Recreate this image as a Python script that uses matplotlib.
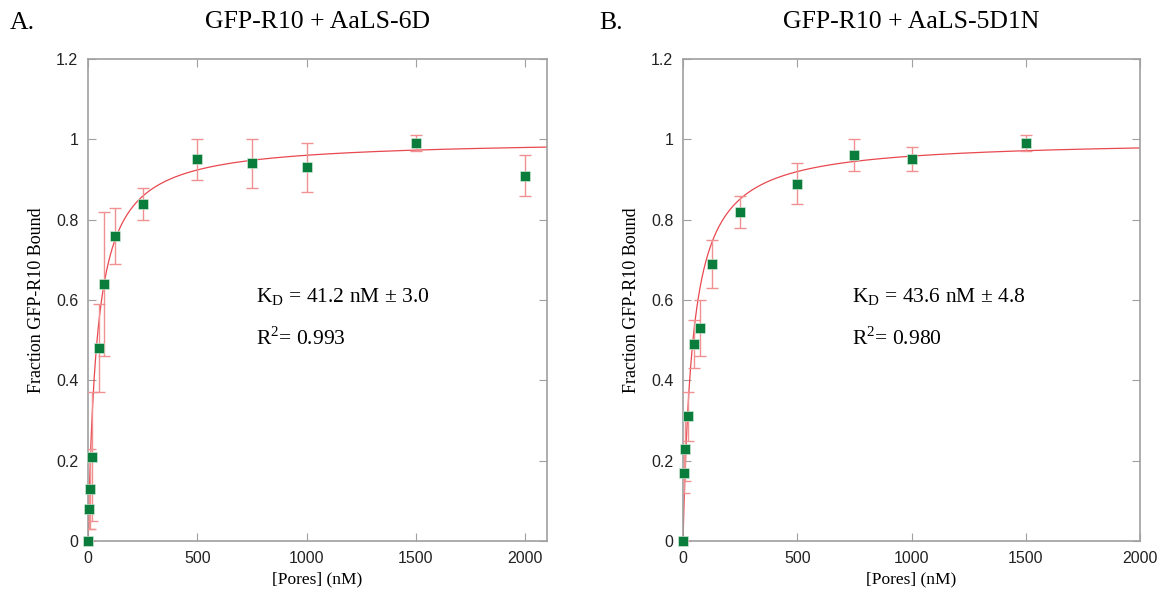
""" Binding curves: GFP-R10 vs AaLS pores """
import numpy as np
import matplotlib
matplotlib.use('Agg')
import matplotlib.pyplot as plt
from matplotlib.ticker import FormatStrFormatter

# panel A: AaLS-6D
conc_a = [0, 5, 10, 20, 50, 75, 125, 250, 500, 750, 1000, 1500, 2000]
frac_a = [0, 0.08, 0.13, 0.21, 0.48, 0.64, 0.76, 0.84, 0.95, 0.94, 0.93, 0.99, 0.91]
err_a = [0, 0.05, 0.10, 0.16, 0.11, 0.18, 0.07, 0.04, 0.05, 0.06, 0.06, 0.02, 0.05]
kd_a = 41.2

# panel B: AaLS-5D1N
conc_b = [0, 5, 10, 20, 50, 75, 125, 250, 500, 750, 1000, 1500]
frac_b = [0, 0.17, 0.23, 0.31, 0.49, 0.53, 0.69, 0.82, 0.89, 0.96, 0.95, 0.99]
err_b = [0, 0.05, 0.08, 0.06, 0.06, 0.07, 0.06, 0.04, 0.05, 0.04, 0.03, 0.02]
kd_b = 43.6

serif = 'Liberation Serif'
sans = 'Liberation Sans'
green = '#0a7d3c'
red = '#e8484f'
gray = '#a0a0a0'

fig = plt.figure(figsize=(11.6, 5.98), dpi=100)
ax1 = fig.add_axes([0.0759, 0.0953, 0.3957, 0.806])
ax2 = fig.add_axes([0.5888, 0.0953, 0.394, 0.806])


def panel(ax, x, y, err, kd, kd_err, r2, xmax, title, lx):
    xs = np.linspace(0, xmax, 2000)
    ax.plot(xs, xs / (kd + xs), color=red, linewidth=0.9, zorder=2)
    ax.errorbar(x, y, yerr=err, fmt='none', ecolor='#f09090', elinewidth=1,
                capsize=4, capthick=1, zorder=3)
    ax.plot(x, y, 's', color=green, markersize=7, markeredgecolor='#e0f0e0',
            markeredgewidth=0.4, zorder=4, clip_on=False)
    ax.set_xlim(0, xmax)
    ax.set_ylim(0, 1.2)
    ax.set_xticks([0, 500, 1000, 1500, 2000])
    ax.set_yticks([0, 0.2, 0.4, 0.6, 0.8, 1.0, 1.2])
    ax.yaxis.set_major_formatter(FormatStrFormatter('%g'))
    ax.tick_params(direction='in', length=6, color=gray, top=True, right=True,
                   labelsize=11.5, pad=7, labelcolor='#222222')
    for lab in ax.get_xticklabels() + ax.get_yticklabels():
        lab.set_fontfamily(sans)
    for sp in ax.spines.values():
        sp.set_color(gray)
        sp.set_linewidth(1.2)
    ax.set_xlabel('[Pores] (nM)', fontfamily=serif, fontsize=12.5, labelpad=4)
    ax.set_ylabel('Fraction GFP-R10 Bound', fontfamily=serif, fontsize=13, labelpad=8)
    ax.set_title(title, fontfamily=serif, fontsize=18.5, pad=22)
    ax.text(lx, 0.595, r'K$_{\mathregular{D}}$ = %s nM ± %s' % (kd, kd_err),
            fontfamily=serif, fontsize=15.5)
    ax.text(lx, 0.488, r'R$^{\mathregular{2}}$= %s' % r2, fontfamily=serif, fontsize=15.5)
    return ax


panel(ax1, conc_a, frac_a, err_a, kd_a, '3.0', '0.993', 2100, 'GFP-R10 + AaLS-6D', 770)
panel(ax2, conc_b, frac_b, err_b, kd_b, '4.8', '0.980', 2000, 'GFP-R10 + AaLS-5D1N', 740)

fig.text(0.008, 0.962, 'A.', fontfamily=serif, fontsize=18.5, va='center')
fig.text(0.517, 0.962, 'B.', fontfamily=serif, fontsize=18.5, va='center')

fig.savefig('out.png', dpi=100)
